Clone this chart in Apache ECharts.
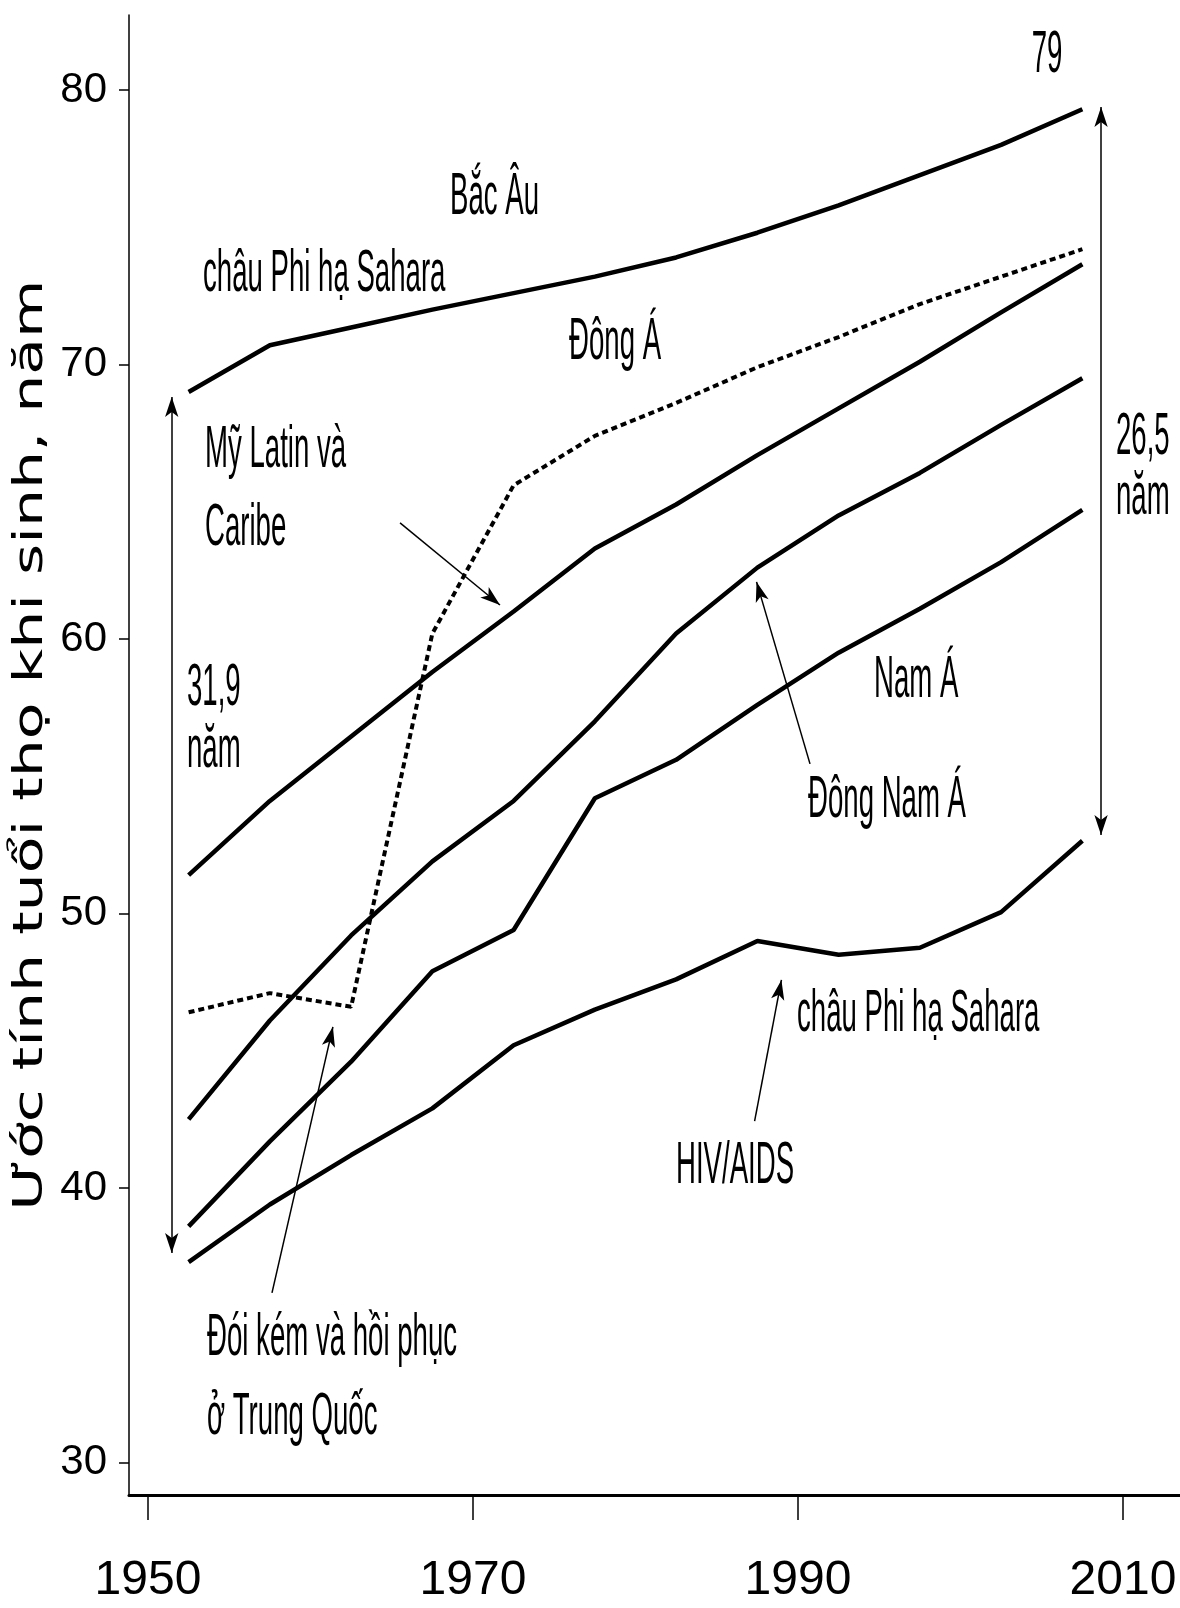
<!DOCTYPE html>
<html>
<head>
<meta charset="utf-8">
<script src="https://cdn.jsdelivr.net/npm/echarts@6/dist/echarts.min.js"></script>
<style>
html,body{margin:0;padding:0;background:#ffffff;}
#chart{width:1180px;height:1608px;}
</style>
</head>
<body>
<div id="chart"></div>
<script>
// ---- data (midpoints of 5-year periods) ----
const years    = [1952.5, 1957.5, 1962.5, 1967.5, 1972.5, 1977.5, 1982.5, 1987.5, 1992.5, 1997.5, 2002.5, 2007.5];
const bacAu    = [69.0, 70.7, 71.35, 72.0, 72.6, 73.2, 73.9, 74.8, 75.8, 76.9, 78.0, 79.3];
const dongA    = [46.4, 47.1, 46.6, 60.2, 65.6, 67.4, 68.6, 69.9, 71.0, 72.2, 73.2, 74.2];
const myLatin  = [51.4, 54.1, 56.45, 58.8, 61.0, 63.3, 64.9, 66.7, 68.4, 70.1, 71.9, 73.65];
const dongNamA = [42.5, 46.1, 49.2, 51.9, 54.1, 57.0, 60.2, 62.6, 64.5, 66.05, 67.8, 69.5];
const namA     = [38.6, 41.7, 44.6, 47.9, 49.4, 54.2, 55.6, 57.6, 59.5, 61.1, 62.8, 64.7];
const chauPhi  = [37.3, 39.4, 41.2, 42.9, 45.2, 46.5, 47.6, 49.0, 48.5, 48.75, 50.05, 52.65];
const xTicks   = [1950, 1970, 1990, 2010];
const yTicks   = [30, 40, 50, 60, 70, 80];

const pairs = arr => years.map((y, i) => [y, arr[i]]);

const chart = echarts.init(document.getElementById('chart'), null, {renderer: 'canvas'});

const labelFont = '"Liberation Sans Narrow", "Liberation Sans", Arial, sans-serif';
const annFont = '60px "Liberation Sans", Arial, sans-serif';

function ann(text, x, y, align) {
  return {
    type: 'text', x: x, y: y, scaleX: 0.46, silent: true, z: 100,
    style: {
      text: text, font: annFont, fill: '#000',
      align: align, textAlign: align,
      verticalAlign: 'middle', textVerticalAlign: 'middle'
    }
  };
}

const solid = (name, arr) => ({
  name: name, type: 'line', data: pairs(arr),
  showSymbol: false, symbol: 'none', silent: true,
  lineStyle: {color: '#000', width: 4.5, type: 'solid'},
  z: 5
});

const arrowLine = (a, b, both) => [
  {coord: a, symbol: both ? 'arrow' : 'none'},
  {coord: b, symbol: 'arrow'}
];

const option = {
  animation: false,
  backgroundColor: '#ffffff',
  grid: {left: 129, right: 0, top: 15, bottom: 113, containLabel: false, outerBoundsMode: 'none'},
  xAxis: {
    type: 'value', min: 1948.831, max: 2013.508,
    axisLine: {show: true, lineStyle: {color: '#000', width: 3}},
    axisTick: {show: true, inside: false, length: 25, customValues: xTicks, lineStyle: {color: '#000', width: 1.5}},
    axisLabel: {show: true, customValues: xTicks, margin: 62, fontSize: 48, fontFamily: labelFont, color: '#000', formatter: v => String(v)},
    splitLine: {show: false}
  },
  yAxis: {
    type: 'value', min: 28.816, max: 82.732,
    axisLine: {show: true, lineStyle: {color: '#000', width: 1.5}},
    axisTick: {show: true, inside: false, length: 10, customValues: yTicks, lineStyle: {color: '#000', width: 1.5}},
    axisLabel: {show: true, customValues: yTicks, margin: 22, fontSize: 42, fontFamily: labelFont, color: '#000', formatter: v => String(v)},
    splitLine: {show: false}
  },
  series: [
    solid('Bắc Âu', bacAu),
    {
      name: 'Đông Á', type: 'line', data: pairs(dongA),
      showSymbol: false, symbol: 'none', silent: true,
      lineStyle: {color: '#000', width: 4, type: [6, 4]}, z: 5
    },
    solid('Mỹ Latin và Caribe', myLatin),
    solid('Đông Nam Á', dongNamA),
    solid('Nam Á', namA),
    solid('châu Phi hạ Sahara', chauPhi),
    {
      name: 'annotations', type: 'line', data: [], silent: true,
      markLine: {
        silent: true, animation: false,
        symbolSize: [10, 20],
        label: {show: false},
        emphasis: {disabled: true},
        lineStyle: {color: '#000', width: 1.5, type: 'solid'},
        data: [
          arrowLine([1965.51, 64.23], [1971.66, 61.24], false),
          arrowLine([1990.74, 55.45], [1987.45, 62.08], false),
          arrowLine([1987.33, 42.44], [1988.98, 47.58], false),
          arrowLine([1957.63, 36.18], [1961.38, 45.87], false),
          arrowLine([1951.46, 37.63], [1951.46, 68.82], true),
          arrowLine([2008.65, 52.86], [2008.65, 79.38], true)
        ]
      }
    }
  ],
  graphic: [
    {
      type: 'text', x: 31, y: 745, rotation: Math.PI / 2, scaleY: 0.68, silent: true,
      style: {
        text: 'Ước tính tuổi thọ khi sinh, năm',
        font: '60px "DejaVu Sans", Verdana, sans-serif', fill: '#000',
        align: 'center', textAlign: 'center',
        verticalAlign: 'middle', textVerticalAlign: 'middle'
      }
    },
    ann('79', 1047, 55, 'center'),
    ann('Bắc Âu', 450, 197, 'left'),
    ann('châu Phi hạ Sahara', 203, 274, 'left'),
    ann('Đông Á', 569, 342, 'left'),
    ann('Mỹ Latin và', 205, 450, 'left'),
    ann('Caribe', 205, 528, 'left'),
    ann('31,9', 187, 688, 'left'),
    ann('năm', 187, 750, 'left'),
    ann('26,5', 1116, 437, 'left'),
    ann('năm', 1116, 497, 'left'),
    ann('Nam Á', 874, 680, 'left'),
    ann('Đông Nam Á', 808, 800, 'left'),
    ann('châu Phi hạ Sahara', 797, 1014, 'left'),
    ann('HIV/AIDS', 676, 1166, 'left'),
    ann('Đói kém và hồi phục', 207, 1338, 'left'),
    ann('ở Trung Quốc', 207, 1417, 'left')
  ]
};

chart.setOption(option);
</script>
</body>
</html>
